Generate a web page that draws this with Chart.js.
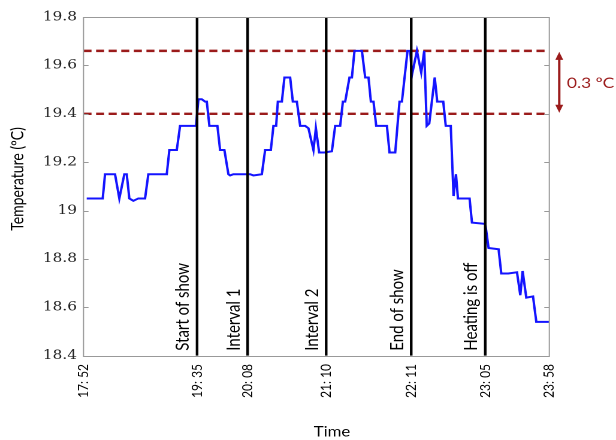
<!DOCTYPE html>
<html><head><meta charset="utf-8">
<script src="https://cdn.jsdelivr.net/npm/chart.js@4/dist/chart.umd.min.js"></script>
<style>
html,body{margin:0;padding:0;background:#fff;overflow:hidden;}
#c{display:block;width:514px;height:440px;transform:scaleX(1.19844);transform-origin:0 0;}
</style>
</head><body>
<canvas id="c" width="514" height="440"></canvas>
<script>
// sample index along the time axis (the axis is not linear in clock time)
const sampleIdx = [3.2,19.2,21.5,31.5,35.8,40.8,43.2,45.8,49.8,54.8,61.5,64.8,83.2,85.8,93.2,96.5,112.5,114.8,118.2,121.5,123.2,125.8,133.8,136.5,140.8,144.8,146.5,149.8,166.5,169.8,178.2,181.5,187.2,189.8,192.5,194.2,198.2,200.8,206.5,209.2,213.2,216.5,221.5,224.8,229.8,232.2,235.5,240.8,248.2,251.5,256.5,259.2,261.5,265.8,268.2,270.8,278.2,281.5,284.8,287.2,289.8,292.5,303.2,305.8,311.5,315.8,318.2,323.8,326.5,328.2,333.2,337.5,340.5,343,345.5,351,353.5,359.5,362,367,369.8,372.2,374.2,375.8,385.8,388.2,401.5,404.8,414.8,417.5,424.5,433.2,436.5,438.8,442.5,449.2,452.5,465.5];
const temperature = [19.05,19.05,19.15,19.15,19.05,19.15,19.15,19.05,19.04,19.05,19.05,19.15,19.15,19.25,19.25,19.35,19.35,19.46,19.46,19.45,19.45,19.35,19.35,19.25,19.25,19.15,19.145,19.15,19.15,19.145,19.15,19.25,19.25,19.35,19.35,19.45,19.45,19.55,19.55,19.45,19.45,19.35,19.35,19.34,19.25,19.34,19.24,19.24,19.245,19.35,19.35,19.45,19.45,19.55,19.55,19.66,19.66,19.55,19.55,19.45,19.45,19.35,19.35,19.24,19.24,19.45,19.45,19.66,19.66,19.56,19.66,19.57,19.66,19.35,19.36,19.55,19.45,19.45,19.35,19.35,19.06,19.15,19.05,19.05,19.05,18.95,18.945,18.845,18.84,18.74,18.74,18.745,18.65,18.75,18.64,18.645,18.54,18.54];
const tickIdx = [0,113.5,164,242.5,327.5,401.5,465.5];
const tickLabels = ['17: 52','19: 35','20: 08','21: 10','22: 11','23: 05','23: 58'];
const eventIdx = [113.5,164,242.5,327.5,401.5];
const eventLabels = ['Start of show','Interval 1','Interval 2','End of show','Heating is off'];
const bandUpper = 19.66;
const bandLower = 19.40;
const bandLabel = '0.3 \u00BAC';
const yMin = 18.4, yMax = 19.8, yStep = 0.2;
const xMax = 465.5;
const xTitle = 'Time';
const yTitle = 'Temperature (\u00BAC)';

const RED = '#9b1b1b';
const SANS = "Lato, 'Open Sans', sans-serif";
const datasets = [];
eventIdx.forEach(e => datasets.push({data:[{x:e,y:yMin},{x:e,y:yMax}], borderColor:'#000', borderWidth:2.2, pointRadius:0, order:0}));
datasets.push({data: sampleIdx.map((x,i)=>({x, y: temperature[i]})), borderColor:'#1414ff', borderWidth:2, pointRadius:0, tension:0, order:1});
[bandUpper, bandLower].forEach(v => datasets.push({data:[{x:0,y:v},{x:xMax,y:v}], borderColor:RED, borderWidth:2.4, borderDash:[6.7,3.8], pointRadius:0, order:2}));

const decor = {
  id:'decor',
  afterDatasetsDraw(chart){
    const {ctx, chartArea:a, scales:{x}} = chart;
    ctx.save();
    ctx.font = '15px ' + SANS;
    ctx.fillStyle = '#000';
    ctx.textAlign = 'left';
    ctx.textBaseline = 'alphabetic';
    eventIdx.forEach((e,i) => {
      const px = x.getPixelForValue(e);
      ctx.save();
      ctx.translate(px - 6.7, a.bottom - 5);
      ctx.rotate(-Math.PI/2);
      ctx.fillText(eventLabels[i], 0, 0);
      ctx.restore();
    });
    ctx.restore();
  },
  afterDraw(chart){
    const {ctx, chartArea:a, scales:{y}} = chart;
    ctx.save();
    ctx.strokeStyle = '#999';
    ctx.lineWidth = 1;
    ctx.strokeRect(a.left, Math.round(a.top)+0.5, a.right-a.left, Math.round(a.bottom-a.top));
    y.ticks.forEach(t => {
      const py = Math.round(y.getPixelForValue(t.value))+0.5;
      ctx.beginPath();
      ctx.moveTo(a.left, py); ctx.lineTo(a.left+4.2, py);
      ctx.moveTo(a.right, py); ctx.lineTo(a.right-4.2, py);
      ctx.stroke();
    });
    // axis titles
    ctx.fillStyle = '#000';
    ctx.font = '14px ' + SANS;
    ctx.textAlign = 'center';
    ctx.textBaseline = 'middle';
    ctx.fillText(xTitle, 277, 432);
    ctx.save();
    ctx.translate(15, 179);
    ctx.rotate(-Math.PI/2);
    ctx.fillText(yTitle, 0, 0);
    ctx.restore();
    // arrow marking the band
    const ax = a.right + 8.3;
    const y1 = y.getPixelForValue(bandUpper), y2 = y.getPixelForValue(bandLower);
    ctx.strokeStyle = RED; ctx.fillStyle = RED; ctx.lineWidth = 2;
    ctx.beginPath(); ctx.moveTo(ax, y1+6); ctx.lineTo(ax, y2-6); ctx.stroke();
    ctx.beginPath(); ctx.moveTo(ax, y1+1); ctx.lineTo(ax-3.3, y1+9); ctx.lineTo(ax+3.3, y1+9); ctx.closePath(); ctx.fill();
    ctx.beginPath(); ctx.moveTo(ax, y2-1); ctx.lineTo(ax-3.3, y2-9); ctx.lineTo(ax+3.3, y2-9); ctx.closePath(); ctx.fill();
    ctx.font = '14.5px ' + SANS;
    ctx.textAlign = 'left';
    ctx.textBaseline = 'middle';
    ctx.fillText(bandLabel, ax + 6.4, (y1+y2)/2 + 1);
    ctx.restore();
  }
};

new Chart(document.getElementById('c'), {
  type:'line',
  data:{datasets},
  options:{
    responsive:false,
    animation:false,
    devicePixelRatio: 2,
    layout:{padding:{left:0,right:55.65,top:17,bottom:0}},
    plugins:{legend:{display:false}, tooltip:{enabled:false}},
    scales:{
      x:{
        type:'linear', min:0, max:xMax,
        grid:{display:false, drawTicks:false}, border:{display:false},
        afterBuildTicks(s){ s.ticks = tickIdx.map(v=>({value:v})); },
        afterFit(s){ s.height = 84.3; s.paddingLeft = 0; s.paddingRight = 0; },
        ticks:{
          autoSkip:false, minRotation:90, maxRotation:90, padding:8.3,
          color:'#000', font:{family:SANS, size:12},
          callback(v){ const i = tickIdx.indexOf(v); return i>=0 ? tickLabels[i] : ''; }
        }
      },
      y:{
        min:yMin, max:yMax,
        grid:{display:false, drawTicks:false}, border:{display:false},
        afterFit(s){ s.width = 69.67; s.paddingTop = 0; s.paddingBottom = 0; },
        ticks:{
          stepSize:yStep, padding:5.4, color:'#222',
          font:{family:"'DejaVu Serif', serif", size:12.8},
          callback(v){ return String(Number(v.toFixed(1))); }
        }
      }
    }
  },
  plugins:[decor]
});
</script>
</body></html>
